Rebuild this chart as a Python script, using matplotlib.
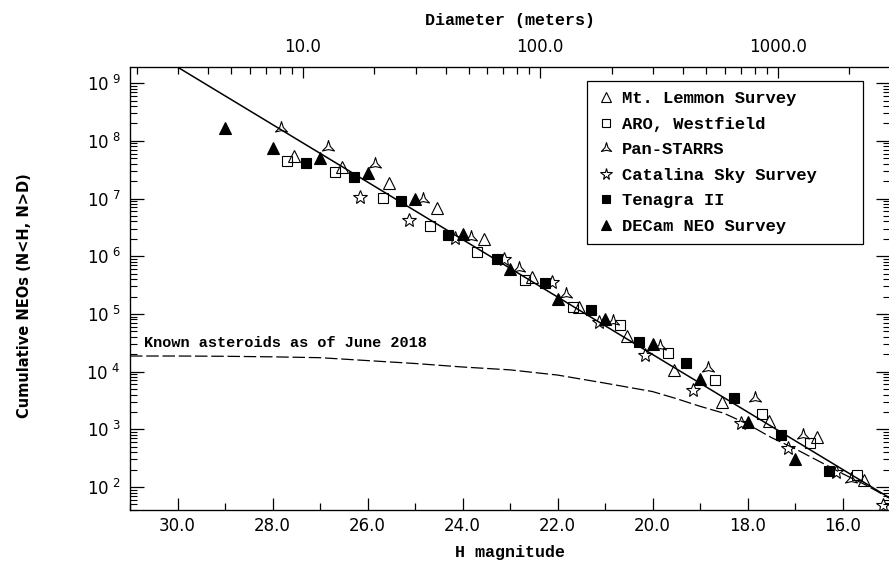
import matplotlib
matplotlib.use('Agg')
import matplotlib.pyplot as plt
import numpy as np
from matplotlib.path import Path
from matplotlib.ticker import MultipleLocator, LogLocator, FixedLocator, FuncFormatter, NullFormatter

# --- дані: оцінки кумулятивної кількості NEO для кожного огляду ---
lemmon_h = [27.54, 26.54, 25.54, 24.54, 23.54, 22.53, 21.54, 20.54, 19.54, 18.54, 17.54, 16.53, 15.54]
lemmon_n = [5.5e7, 3.55e7, 1.86e7, 6.8e6, 1.95e6, 4.4e5, 1.32e5, 4.2e4, 1.07e4, 3.0e3, 1.38e3, 7.2e2, 1.32e2]

aro_h = [27.70, 26.68, 25.68, 24.68, 23.69, 22.69, 21.68, 20.69, 19.68, 18.69, 17.69, 16.69, 15.70]
aro_n = [4.5e7, 2.9e7, 1.02e7, 3.3e6, 1.17e6, 3.8e5, 1.32e5, 6.3e4, 2.1e4, 7.1e3, 1.82e3, 5.8e2, 1.6e2]

panstarrs_h = [27.83, 26.84, 25.84, 24.84, 23.82, 22.82, 21.83, 20.83, 19.84, 18.84, 17.84, 16.84, 15.83]
panstarrs_n = [1.66e8, 7.9e7, 3.9e7, 9.8e6, 2.14e6, 6.2e5, 2.2e5, 7.6e4, 2.75e4, 1.15e4, 3.5e3, 7.9e2, 1.35e2]

catalina_h = [26.15, 25.13, 24.15, 23.12, 22.12, 21.12, 20.15, 19.14, 18.13, 17.14, 16.13, 15.14]
catalina_n = [1.07e7, 4.3e6, 2.04e6, 9.1e5, 3.5e5, 7.2e4, 1.95e4, 4.8e3, 1.26e3, 4.7e2, 1.78e2, 48]

tenagra_h = [27.29, 26.29, 25.29, 24.31, 23.28, 22.27, 21.29, 20.29, 19.29, 18.29, 17.29, 16.29]
tenagra_n = [4.1e7, 2.4e7, 9.1e6, 2.34e6, 8.9e5, 3.4e5, 1.15e5, 3.3e4, 1.41e4, 3.5e3, 7.9e2, 1.86e2]

decam_h = [29.0, 28.0, 27.0, 26.0, 25.0, 24.0, 23.0, 22.0, 21.0, 20.0, 19.0, 18.0, 17.0]
decam_n = [1.7e8, 7.4e7, 5.1e7, 2.75e7, 9.8e6, 2.4e6, 5.9e5, 1.78e5, 8.1e4, 3.0e4, 7.4e3, 1.35e3, 3.0e2]

# Апроксимація степеневим законом
fit_h = [30.0, 15.0]
fit_n = [1.9e9, 64]

# Відомі астероїди станом на червень 2018
known_h = [31.0, 30.0, 29.0, 28.0, 27.0, 26.0, 25.0, 24.0, 23.0, 22.0, 21.0,
           20.0, 19.5, 19.0, 18.5, 18.0, 17.5, 17.0, 16.5, 16.0, 15.5, 15.0]
known_n = [1.86e4, 1.86e4, 1.84e4, 1.80e4, 1.74e4, 1.55e4, 1.38e4, 1.20e4, 1.07e4, 8.7e3, 6.3e3,
           4.5e3, 3.4e3, 2.5e3, 1.9e3, 1.23e3, 7.2e2, 4.6e2, 2.8e2, 1.7e2, 1.07e2, 63]

# Позначки осей
y_decades = [1e2, 1e3, 1e4, 1e5, 1e6, 1e7, 1e8, 1e9]
diam_major = [10, 100, 1000]
diam_minor = [2, 3, 4, 5, 6, 7, 8, 9, 20, 30, 40, 50, 60, 70, 80, 90,
              200, 300, 400, 500, 600, 700, 800, 900, 2000]
ALBEDO = 0.2


def h_from_diameter(d_m):
    """Абсолютна зоряна величина для діаметра (м) при заданому альбедо."""
    d_km = np.asarray(d_m, dtype=float) / 1000.0
    return 5.0 * np.log10(1329.0 / (np.sqrt(ALBEDO) * d_km))


def tri_star(inner=0.3):
    """Триконечна зірка з увігнутими сторонами (маркер Pan-STARRS)."""
    ang = np.deg2rad(90 + 60 * np.arange(6))
    rad = np.where(np.arange(6) % 2 == 0, 1.0, inner)
    verts = np.column_stack([rad * np.cos(ang), rad * np.sin(ang)])
    verts = np.vstack([verts, verts[:1]])
    codes = [Path.MOVETO] + [Path.LINETO] * 5 + [Path.CLOSEPOLY]
    return Path(verts, codes)


mono = 'Liberation Mono'

fig = plt.figure(figsize=(8.89, 5.65), dpi=100)
ax = fig.add_axes([130 / 889, 1 - 510 / 565, 760 / 889, 443 / 565])

ax.plot(fit_h, fit_n, color='black', lw=1.1, zorder=2)
ax.plot(known_h, known_n, color='black', lw=0.9, dashes=(10, 3), zorder=2)

mk = dict(linestyle='none', color='black', mew=0.8, zorder=3)
ax.plot(lemmon_h, lemmon_n, marker='^', ms=8, mfc='none', label='Mt. Lemmon Survey', **mk)
ax.plot(aro_h, aro_n, marker='s', ms=6.5, mfc='none', label='ARO, Westfield', **mk)
ax.plot(panstarrs_h, panstarrs_n, marker=tri_star(), ms=10, mfc='none', label='Pan-STARRS', **mk)
ax.plot(catalina_h, catalina_n, marker='*', ms=10, mfc='none', label='Catalina Sky Survey', **mk)
ax.plot(tenagra_h, tenagra_n, marker='s', ms=6.5, mfc='black', label='Tenagra II', **mk)
ax.plot(decam_h, decam_n, marker='^', ms=8, mfc='black', label='DECam NEO Survey', **mk)

ax.text(30.7, 10 ** 4.5, 'Known asteroids as of June 2018', family=mono,
        fontweight='bold', fontsize=11, ha='left', va='center')

ax.set_yscale('log')
ax.set_xlim(31.0, 15.0)
ax.set_ylim(10 ** 1.6, 10 ** 9.28)

ax.xaxis.set_major_locator(MultipleLocator(2))
ax.xaxis.set_minor_locator(MultipleLocator(1))
ax.xaxis.set_major_formatter(FuncFormatter(lambda v, p: f'{v:.1f}'))
ax.yaxis.set_major_locator(FixedLocator(y_decades))
ax.yaxis.set_minor_locator(LogLocator(base=10, subs=np.arange(2, 10), numticks=20))
ax.yaxis.set_minor_formatter(NullFormatter())
ax.yaxis.set_major_formatter(FuncFormatter(
    lambda v, p: r'10$^{\ %d}$' % round(np.log10(v))))

ax.tick_params(which='both', direction='in', top=False, right=True, labelsize=12)
ax.tick_params(axis='x', which='major', length=9, width=0.9, pad=5)
ax.tick_params(axis='x', which='minor', length=5, width=0.9)
ax.tick_params(axis='y', which='major', length=10, width=0.9, pad=7)
ax.tick_params(axis='y', which='minor', length=5, width=0.8)
for s in ax.spines.values():
    s.set_linewidth(0.9)

# Верхня вісь: діаметр
ax_top = ax.twiny()
ax_top.set_xlim(ax.get_xlim())
ax_top.set_xticks(h_from_diameter(diam_major))
ax_top.set_xticklabels([f'{d:.1f}' for d in diam_major])
ax_top.set_xticks(h_from_diameter(diam_minor), minor=True)
ax_top.tick_params(which='both', direction='in', labelsize=12)
ax_top.tick_params(which='major', length=8, width=0.9, pad=8)
ax_top.tick_params(which='minor', length=5, width=0.9)

ax.set_xlabel('H magnitude', family=mono, fontweight='bold', fontsize=12, va='center')
ax.xaxis.set_label_coords(0.5, (510 - 552) / 443)
ax_top.set_xlabel('Diameter (meters)', family=mono, fontweight='bold', fontsize=12, va='center')
ax_top.xaxis.set_label_coords(0.5, 1 + (67 - 20) / 443)
ax.set_ylabel('Cumulative NEOs (N<H, N>D)', family='DejaVu Sans',
              fontweight='bold', fontsize=10.5, va='center')
ax.yaxis.set_label_coords((25 - 130) / 760, 1 - (296 - 67) / 443)

leg = ax.legend(loc='upper left', bbox_to_anchor=(0.601, 0.969, 0.363, 0.0), mode='expand',
                prop=dict(family=mono, weight='bold', size=12.3),
                fancybox=False, framealpha=1, edgecolor='black',
                handlelength=1.0, handletextpad=0.45, borderpad=0.6,
                labelspacing=0.62, borderaxespad=0, markerscale=0.85)
leg.get_frame().set_linewidth(0.9)

fig.savefig('out.png', dpi=100)
